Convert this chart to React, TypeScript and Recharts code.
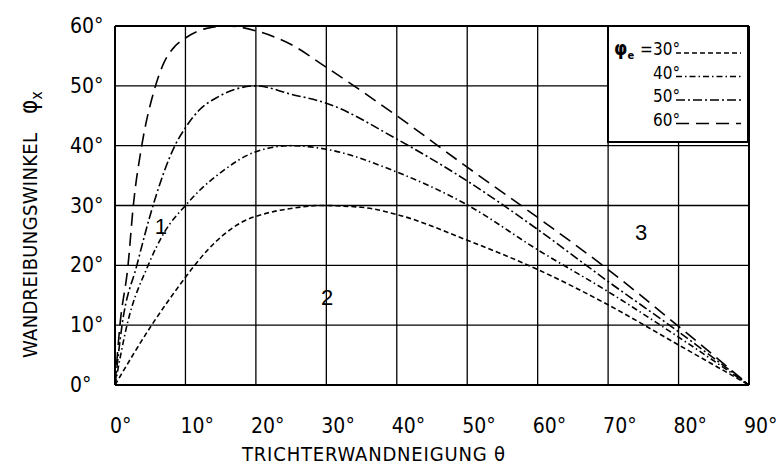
import React from 'react';
import {
  LineChart,
  Line,
  XAxis,
  YAxis,
  CartesianGrid,
  ReferenceLine,
  ReferenceDot,
  Legend
} from 'recharts';

// lettering font of the drawing: narrow, upright
const FONT = "'DejaVu Sans Condensed', 'DejaVu Sans', sans-serif";

const X_TICKS = [0, 10, 20, 30, 40, 50, 60, 70, 80, 90];
const Y_TICKS = [0, 10, 20, 30, 40, 50, 60];

// phi_e = 30°
const theta30 = [0, 5.2, 10, 11.3, 15.3, 18, 21.5, 25, 29, 35, 40, 50, 60, 70, 80, 90];
const phi30 = [0, 10, 18, 20, 25, 27.2, 28.7, 29.5, 30, 29.7, 28.5, 24.2, 19.3, 13.4, 6.7, 0];

// phi_e = 40°
const theta40 = [0, 1.7, 4.7, 7, 10, 12, 15, 20, 25, 30, 40, 50, 60, 70, 80, 90];
const phi40 = [0, 10, 20, 25.5, 30, 32.5, 35.5, 39, 40, 39.4, 35.6, 30.1, 22.6, 15.6, 8, 0];

// phi_e = 50°
const theta50 = [0, 1, 3.1, 5.4, 8.5, 10, 12, 14.4, 17, 20, 25, 30, 40, 50, 60, 70, 80, 90];
const phi50 = [0, 10, 20, 30, 40, 43, 46, 48, 49.4, 50, 48.6, 47.1, 41.1, 34.1, 26, 17.3, 8.9, 0];

// phi_e = 60°
const theta60 = [0, 0.7, 1.85, 2.6, 3.8, 5.5, 7, 8.5, 10, 13, 16, 20, 25, 30, 40, 50, 60, 70, 80, 90];
const phi60 = [0, 10, 20, 30, 40, 49, 54, 56.6, 58, 59.6, 60, 59.2, 56.9, 53.1, 45, 36.4, 28, 19.3, 9.8, 0];

const SERIES_LABELS = ['30°', '40°', '50°', '60°'];
const SERIES_DASH = ['5 3', '6 3 1.5 3', '9 3 2 3', '13 7'];

const REGION_LABELS = ['1', '2', '3'];
const REGION_THETA = [6.5, 30.1, 74.7];
const REGION_PHI = [26.5, 14.6, 25.5];

const toPoints = (t: number[], p: number[]) => t.map((x, i) => ({ t: x, v: p[i] }));

const SERIES = [
  toPoints(theta30, phi30),
  toPoints(theta40, phi40),
  toPoints(theta50, phi50),
  toPoints(theta60, phi60)
];

const XTick = ({ x, y, payload }: any) => (
  <text x={x - 5} y={y + 48} fontFamily={FONT} fontSize={21} fill="#000" textAnchor="start">
    {payload.value}°
  </text>
);

const YTick = ({ x, y, payload }: any) => (
  <text x={x - 45} y={y + 7} fontFamily={FONT} fontSize={21} fill="#000" textAnchor="start">
    {payload.value}°
  </text>
);

const XTitle = ({ viewBox }: any) => (
  <text
    x={viewBox.x + 127}
    y={viewBox.y + 76}
    fontFamily={FONT}
    fontSize={20}
    fill="#000"
    textLength={263}
    lengthAdjust="spacing"
  >
    TRICHTERWANDNEIGUNG θ
  </text>
);

const YTitle = () => (
  <g fontFamily={FONT} fill="#000">
    <text
      x={37}
      y={245.5}
      fontSize={20}
      textAnchor="middle"
      textLength={225}
      lengthAdjust="spacing"
      transform="rotate(-90 37 245.5)"
    >
      WANDREIBUNGSWINKEL
    </text>
    <text x={37} y={114} fontSize={24} transform="rotate(-90 37 114)">
      φ<tspan fontSize={16} dy={5}>x</tspan>
    </text>
  </g>
);

const LegendBox = () => (
  <svg width={142} height={118} style={{ display: 'block' }}>
    <rect x={1} y={1} width={140} height={116} fill="#fff" stroke="#000" strokeWidth={2} />
    <g fontFamily={FONT} fontSize={17} fill="#000">
      <text x={7} y={30} fontSize={19} fontWeight="bold">
        φ<tspan fontSize={11} dy={4}>e</tspan>
      </text>
      <text x={33} y={30}>=</text>
      {SERIES_LABELS.map((label, i) => (
        <g key={label}>
          <text x={46} y={30 + i * 23.5}>{label}</text>
          <line
            x1={69}
            x2={134}
            y1={28 + i * 23.5}
            y2={28 + i * 23.5}
            stroke="#000"
            strokeWidth={1.6}
            strokeDasharray={SERIES_DASH[i]}
          />
        </g>
      ))}
    </g>
  </svg>
);

export default function App() {
  return (
    <div style={{ position: 'absolute', left: 0, top: 0, width: 778, height: 468, background: '#fff' }}>
      <LineChart width={778} height={468} margin={{ top: 26, right: 29, bottom: 0, left: 0 }}>
        <CartesianGrid stroke="#000" strokeWidth={1.3} />
        <XAxis
          type="number"
          dataKey="t"
          domain={[0, 90]}
          ticks={X_TICKS}
          height={83}
          tickSize={0}
          tickMargin={0}
          tick={<XTick />}
          axisLine={{ stroke: '#000', strokeWidth: 2 }}
          tickLine={false}
          label={<XTitle />}
        />
        <YAxis
          type="number"
          domain={[0, 60]}
          ticks={Y_TICKS}
          width={115}
          tickSize={0}
          tickMargin={0}
          tick={<YTick />}
          axisLine={{ stroke: '#000', strokeWidth: 2 }}
          tickLine={false}
          label={<YTitle />}
        />
        <ReferenceLine y={60} stroke="#000" strokeWidth={2} />
        <ReferenceLine x={90} stroke="#000" strokeWidth={2} />
        {SERIES.map((points, i) => (
          <Line
            key={SERIES_LABELS[i]}
            data={points}
            dataKey="v"
            name={SERIES_LABELS[i]}
            type="monotone"
            stroke="#000"
            strokeWidth={1.6}
            strokeDasharray={SERIES_DASH[i]}
            dot={false}
            activeDot={false}
            isAnimationActive={false}
          />
        ))}
        {REGION_LABELS.map((label, i) => (
          <ReferenceDot
            key={label}
            x={REGION_THETA[i]}
            y={REGION_PHI[i]}
            r={0}
            stroke="none"
            label={{ value: label, position: 'center', fontSize: 22, fill: '#000', fontFamily: 'Liberation Sans, Arial, sans-serif' }}
          />
        ))}
        <Legend
          layout="horizontal"
          verticalAlign="middle"
          align="center"
          content={<LegendBox />}
          wrapperStyle={{ left: 607, top: 25, width: 142, height: 118, lineHeight: 0 }}
        />
      </LineChart>
    </div>
  );
}
